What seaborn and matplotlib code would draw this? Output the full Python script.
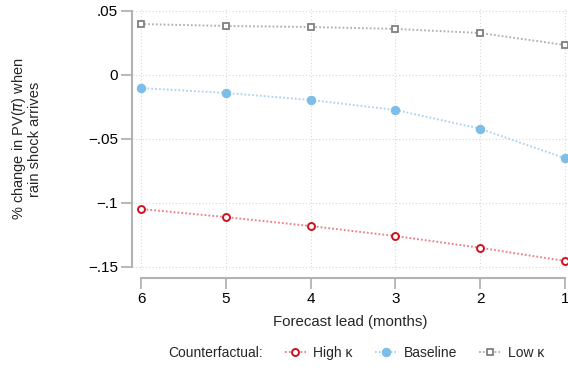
import matplotlib
matplotlib.use("Agg")
import matplotlib.pyplot as plt
import seaborn as sns
import pandas as pd
from matplotlib.lines import Line2D

sns.set_theme(style="white")
plt.rcParams['font.family'] = ['Liberation Sans', 'DejaVu Sans']

lead = [6, 5, 4, 3, 2, 1]
high_kappa = [-0.1047, -0.1110, -0.1180, -0.1258, -0.1350, -0.1453]
baseline = [-0.0102, -0.0140, -0.0195, -0.0273, -0.0420, -0.0650]
low_kappa = [0.0398, 0.0383, 0.0375, 0.0360, 0.0328, 0.0234]
series_names = ["High κ", "Baseline", "Low κ"]
yticks = [0.05, 0, -0.05, -0.1, -0.15]
ytick_labels = [".05", "0", "−.05", "−.1", "−.15"]

W, H = 568, 371
fig = plt.figure(figsize=(W / 100, H / 100), dpi=100)
left, right, top, bottom = 132, 568, 8, 270
ax = fig.add_axes([left / W, 1 - bottom / H, (right - left) / W, (bottom - top) / H])

styles = {
    "High κ": dict(lc="#ec7f86", marker="o", mfc="white", mec="#d0101e", ms=5, mew=1.4),
    "Baseline": dict(lc="#a9d4f2", marker="o", mfc="#7dbde9", mec="#7dbde9", ms=6, mew=0.8),
    "Low κ": dict(lc="#b0b0b0", marker="s", mfc="white", mec="#808080", ms=5, mew=1.3),
}
data = {"High κ": high_kappa, "Baseline": baseline, "Low κ": low_kappa}
ls = (0, (0.9, 1.1))

handles = []
for name in series_names:
    df = pd.DataFrame({"lead": lead, "val": data[name]})
    st = styles[name]
    sns.lineplot(data=df, x="lead", y="val", ax=ax, color=st["lc"], linestyle=ls,
                 lw=1.4, marker=st["marker"], markerfacecolor=st["mfc"],
                 markeredgecolor=st["mec"], markersize=st["ms"], markeredgewidth=st["mew"],
                 zorder=3)
    handles.append(Line2D([], [], color=st["lc"], linestyle=ls, lw=1.4,
                          marker=st["marker"], markerfacecolor=st["mfc"],
                          markeredgecolor=st["mec"], markersize=st["ms"],
                          markeredgewidth=st["mew"]))

# scales: 6 at px 141, 1 at px 565
ppu_x = (565 - 141) / 5
ax.set_xlim(6 + (141 - left) / ppu_x, 1 - (right - 565) / ppu_x)
ppu_y = (267 - 11) / 0.2
ax.set_ylim(-0.15 - (bottom - 267) / ppu_y, 0.05 + (11 - top) / ppu_y)

ax.set_xticks(lead)
ax.set_xticklabels([str(v) for v in lead])
ax.set_yticks(yticks)
ax.set_yticklabels(ytick_labels)

ax.grid(True, color="#d9d9d9", linestyle=(0, (1, 2)), lw=0.8)
ax.set_axisbelow(True)

for s in ["top", "right"]:
    ax.spines[s].set_visible(False)
spc = "#b3b3b3"
ax.spines["left"].set_color(spc)
ax.spines["left"].set_linewidth(1.5)
ax.spines["left"].set_bounds(-0.15, 0.05)
ax.spines["bottom"].set_color(spc)
ax.spines["bottom"].set_linewidth(1.5)
ax.spines["bottom"].set_bounds(6, 1)
ax.spines["bottom"].set_position(("outward", 6))

ax.tick_params(axis="both", which="major", direction="out", length=8, width=1.3,
               color=spc, labelsize=11, labelcolor="black", pad=2, left=True, bottom=True)

ax.set_xlabel("Forecast lead (months)", fontsize=10.8, labelpad=6)
ax.set_ylabel("% change in PV($\\pi$) when\nrain shock arrives", fontsize=10.5,
              labelpad=33, linespacing=1.0)

fig.text(168 / W, 1 - 353 / H, "Counterfactual:", fontsize=10, va="center", ha="left")
fig.legend(handles, series_names, loc="center left", bbox_to_anchor=(285 / W, 1 - 353 / H),
           ncol=3, frameon=False, fontsize=10, handlelength=1.5, handletextpad=0.55,
           columnspacing=1.6, borderaxespad=0, borderpad=0)

fig.savefig("out.png", dpi=100)
